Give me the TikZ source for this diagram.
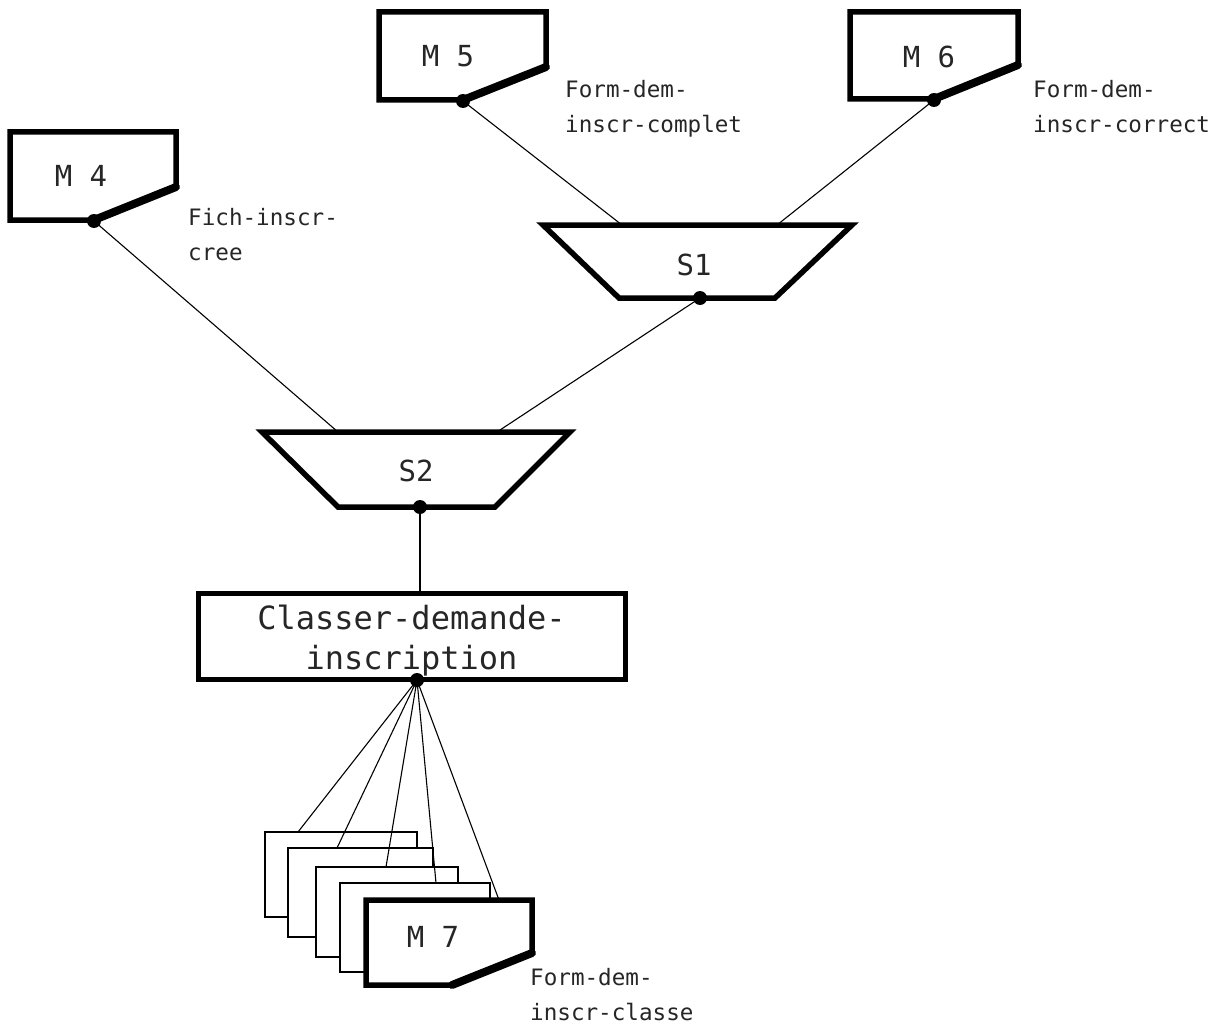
\documentclass[tikz,border=0pt]{standalone}
\usepackage{fontspec}
\newfontfamily\plotfont{DejaVu Sans Mono}
\begin{document}
\begin{tikzpicture}[x=1pt,y=-1pt,
  frame/.style={line width=5.5pt, miter limit=10},
  chamfer/.style={line width=8pt, line cap=round},
  link/.style={line width=1.1pt},
  sheet/.style={line width=1.8pt, fill=white},
  dot/.style={circle, fill, inner sep=0pt, minimum size=14pt},
  tag/.style={font=\plotfont\fontsize{22.6}{35}\selectfont, text=black!85, align=left, anchor=north west, inner sep=0pt},
  mname/.style={font=\plotfont\fontsize{29}{30}\selectfont, text=black!85, inner sep=0pt},
  bigtext/.style={font=\plotfont\fontsize{32}{40}\selectfont, text=black!85, align=center, inner sep=0pt}]
\useasboundingbox[fill=white] (0,0) rectangle (1229,1030);

% --- documents M4, M5, M6 ---
\draw[frame] (10,132) -- (176,132) -- (176,187) -- (94,220) -- (10,220) -- cycle;
\draw[chamfer] (176,187) -- (94,220);
\node[mname] (m4) at (81,176) {M 4};
\node[dot] (m4dot) at (94,221) {};
\node[tag] (m4tag) at (188,208) {Fich-inscr-\\cree};

\draw[frame] (379,12) -- (546,12) -- (546,67) -- (463,100) -- (379,100) -- cycle;
\draw[chamfer] (546,67) -- (463,100);
\node[mname] (m5) at (448,56) {M 5};
\node[dot] (m5dot) at (463,101) {};
\node[tag] (m5tag) at (565,80) {Form-dem-\\inscr-complet};

\draw[frame] (850,12) -- (1018,12) -- (1018,65) -- (934,99) -- (850,99) -- cycle;
\draw[chamfer] (1018,65) -- (934,99);
\node[mname] (m6) at (929,57) {M 6};
\node[dot] (m6dot) at (934,100) {};
\node[tag] (m6tag) at (1033,80) {Form-dem-\\inscr-correct};

% --- selection trapezoids S1, S2 ---
\draw[frame] (543,225) -- (852,225) -- (775,298) -- (619,298) -- cycle;
\node[mname] (s1) at (694,265) {S1};
\coordinate (s1inL) at (622,225);
\coordinate (s1inR) at (777,225);
\node[dot] (s1dot) at (700,298) {};

\draw[frame] (262,432) -- (570,432) -- (495,507) -- (338,507) -- cycle;
\node[mname] (s2) at (416,471) {S2};
\coordinate (s2inL) at (338,432);
\coordinate (s2inR) at (497,432);
\node[dot] (s2dot) at (420,507) {};

% --- process box ---
\node[draw, line width=5pt, minimum width=427pt, minimum height=86pt, inner sep=0pt]
  (classer) at (411.5,636) {};
\node[bigtext] (classertext) at (411.5,640.5) {Classer-demande-\\inscription};
\coordinate (classerin) at (420,593);
\node[dot] (classerdot) at (417,680) {};

% --- stack of output documents ---
\draw[sheet] (265,832) rectangle (417,917);
\draw[sheet] (288,848) rectangle (433,937);
\draw[sheet] (316,867) rectangle (458,957);
\draw[sheet] (340,883) rectangle (490,972);
\draw[frame, fill=white] (366,900) -- (532,900) -- (532,953) -- (452,985) -- (366,985) -- cycle;
\draw[chamfer] (532,953) -- (452,985);
\node[mname] (m7) at (433,937) {M 7};
\node[tag] (m7tag) at (530,968) {Form-dem-\\inscr-classe};
\coordinate (card1) at (298,832);
\coordinate (card2) at (337,848);
\coordinate (card3) at (386,867);
\coordinate (card4) at (436,883);
\coordinate (card5) at (499,900);

% --- connectors ---
\draw[link] (m4dot.center) -- (s2inL);
\draw[link] (m5dot.center) -- (s1inL);
\draw[link] (m6dot.center) -- (s1inR);
\draw[link] (s1dot.center) -- (s2inR);
\draw[link] (s2dot.center) -- (classerin);
\foreach \c in {card1,card2,card3,card4,card5}
  \draw[link] (classerdot.center) -- (\c);
\end{tikzpicture}
\end{document}
